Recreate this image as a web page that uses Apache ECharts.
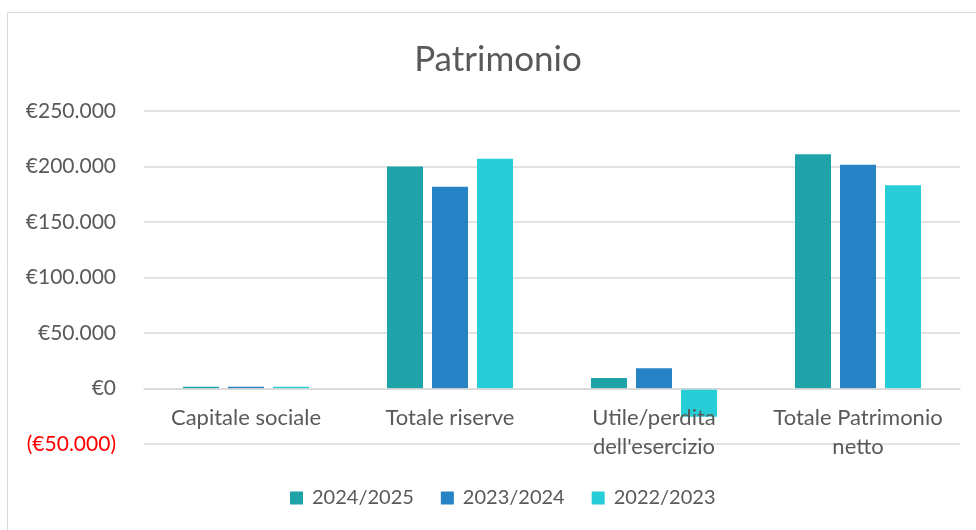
<!doctype html>
<html>
<head>
<meta charset="UTF-8">
<title>Patrimonio</title>
<style>
  html, body { margin: 0; padding: 0; background: #fff; }
  #chart { width: 976px; height: 530px; }
</style>
</head>
<body>
<div id="chart"></div>
<script src="https://cdn.jsdelivr.net/npm/echarts@6/dist/echarts.min.js"></script>
<script>
// dati
var categories = ['Capitale sociale', 'Totale riserve', "Utile/perdita\ndell'esercizio", 'Totale Patrimonio\nnetto'];
var seriesNames = ['2024/2025', '2023/2024', '2022/2023'];
var v2024_2025 = [1500, 200000, 9500, 211000];
var v2023_2024 = [1500, 181800, 18200, 201500];
var v2022_2023 = [1500, 207000, -25400, 183100];
var yTicks = { min: -50000, max: 250000, step: 50000 };
var colors = ['#1FA3A9', '#2683C6', '#27CED7'];

var font = 'Lato, "Open Sans", sans-serif';
var grey = '#595959';

function euro(v) {
  var s = Math.abs(v).toString().replace(/\B(?=(\d{3})+(?!\d))/g, '.');
  return v < 0 ? '(€' + s + ')' : '€' + s;
}

var gridTop = 111, gridBottom = 86, chartH = 530;
var plotH = chartH - gridTop - gridBottom;
// sposta l'asse delle categorie sulla linea dello zero
var zeroOffset = -plotH * (0 - yTicks.min) / (yTicks.max - yTicks.min);

var values = [v2024_2025, v2023_2024, v2022_2023];
var series = seriesNames.map(function (name, i) {
  return {
    name: name,
    type: 'bar',
    data: values[i],
    barWidth: 36,
    barGap: '25%',
    itemStyle: { color: colors[i] }
  };
});

var option = {
  animation: false,
  title: {
    text: 'Patrimonio',
    left: 493,
    textAlign: 'center',
    top: 37,
    textStyle: { fontFamily: font, fontSize: 35, fontWeight: 'normal', color: grey }
  },
  graphic: [{
    type: 'rect',
    shape: { x: 7.5, y: 12.5, width: 1000, height: 600 },
    style: { fill: null, stroke: '#d9d9d9', lineWidth: 1 },
    silent: true
  }],
  legend: {
    data: seriesNames,
    bottom: 17,
    left: 285,
    icon: 'rect',
    itemWidth: 13,
    itemHeight: 13,
    itemGap: 27,
    textStyle: { fontFamily: font, fontSize: 20, color: grey, padding: [0, 0, 0, 4] }
  },
  grid: { left: 144, right: 16, top: gridTop, bottom: gridBottom },
  xAxis: {
    type: 'category',
    data: categories,
    offset: zeroOffset,
    z: 3,
    axisLine: { onZero: false, lineStyle: { color: '#d9d9d9', width: 1.5 } },
    axisTick: { show: false },
    axisLabel: {
      interval: 0,
      margin: 15,
      lineHeight: 29,
      fontFamily: font,
      fontSize: 22,
      color: grey
    }
  },
  yAxis: {
    type: 'value',
    min: yTicks.min,
    max: yTicks.max,
    interval: yTicks.step,
    axisLine: { show: false },
    axisTick: { show: false },
    splitLine: { lineStyle: { color: '#d9d9d9', width: 1.5 } },
    axisLabel: {
      margin: 28,
      fontFamily: font,
      fontSize: 21,
      formatter: euro,
      color: function (v) { return Number(v) < 0 ? '#ff0000' : grey; }
    }
  },
  series: series
};

var myChart = echarts.init(document.getElementById('chart'));
myChart.setOption(option);
</script>
</body>
</html>
